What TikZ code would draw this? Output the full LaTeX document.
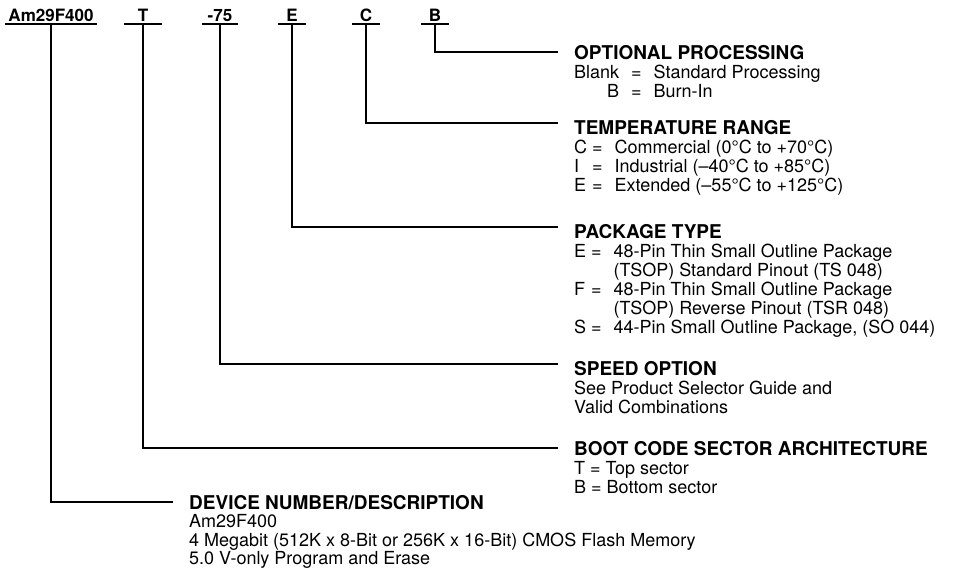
\documentclass[tikz,border=0pt]{standalone}
\usepackage{fontspec}
\setmainfont{TeX Gyre Heros}
\usepackage{tikz}

\begin{document}
\begin{tikzpicture}[x=1pt,y=-1pt,
  part/.style={font=\fontsize{17}{19}\selectfont\bfseries, inner xsep=0pt, inner ysep=2.5pt, anchor=south, text depth=0pt},
  head/.style={font=\fontsize{19}{19}\selectfont\bfseries, inner sep=0pt, anchor=west, text depth=0pt},
  desc/.style={font=\fontsize{18}{19}\selectfont, inner sep=0pt, anchor=north west},
  wire/.style={line width=1.6pt, shorten >=16pt}]

\useasboundingbox (0,0) rectangle (961,572);

\node[part, minimum width=92pt] (am) at (51,24) {Am29F400};
\node[part, minimum width=37pt] (t) at (143,24) {T};
\node[part, minimum width=36pt] (sp) at (220,24) {-75};
\node[part, minimum width=27pt] (e) at (292,24) {E};
\node[part, minimum width=28pt] (c) at (366,24) {C};
\node[part, minimum width=27pt] (b) at (435,24) {B};
\foreach \n in {am,t,sp,e,c,b}
  \draw[line width=1.6pt] (\n.south west) -- (\n.south east);

\node[head] (op) at (574,52) {OPTIONAL PROCESSING};
\node[desc] (opd) at ([yshift=-5.5pt]op.south west) {\begin{tabular}{@{}r@{\hspace{12pt}=\hspace{12pt}}l@{}}
Blank & Standard Processing\\
B & Burn-In
\end{tabular}};

\node[head] (tr) at (574,127) {TEMPERATURE RANGE};
\node[desc] (trd) at ([yshift=-5.5pt]tr.south west) {\begin{tabular}{@{}l@{\hspace{5pt}=\hspace{12pt}}l@{}}
C & Commercial (0°C to +70°C)\\
I & Industrial (--40°C to +85°C)\\
E & Extended (--55°C to +125°C)
\end{tabular}};

\node[head] (pt) at (574,231) {PACKAGE TYPE};
\node[desc] (ptd) at ([yshift=-5.5pt]pt.south west) {\begin{tabular}{@{}l@{\hspace{5pt}}l@{\hspace{12pt}}l@{}}
E & = & 48-Pin Thin Small Outline Package\\
  &   & (TSOP) Standard Pinout (TS 048)\\
F & = & 48-Pin Thin Small Outline Package\\
  &   & (TSOP) Reverse Pinout (TSR 048)\\
S & = & 44-Pin Small Outline Package, (SO 044)
\end{tabular}};

\node[head] (so) at (574,368) {SPEED OPTION};
\node[desc] (sod) at ([yshift=-5.5pt]so.south west) {\begin{tabular}{@{}l@{}}
See Product Selector Guide and\\
Valid Combinations
\end{tabular}};

\node[head] (bc) at (574,448) {BOOT CODE SECTOR ARCHITECTURE};
\node[desc] (bcd) at ([yshift=-5.5pt]bc.south west) {\begin{tabular}{@{}l@{}}
T = Top sector\\
B = Bottom sector
\end{tabular}};

\node[head] (dn) at (189,502) {DEVICE NUMBER/DESCRIPTION};
\node[desc, font=\fontsize{18}{17.5}\selectfont] (dnd) at ([yshift=-5pt]dn.south west) {\begin{tabular}{@{}l@{}}
Am29F400\\
4 Megabit (512K x 8-Bit or 256K x 16-Bit) CMOS Flash Memory\\
5.0 V-only Program and Erase
\end{tabular}};

\draw[wire] (b.south) |- (op.west);
\draw[wire] (c.south) |- ([yshift=4pt]tr.west);
\draw[wire] (e.south) |- ([yshift=4pt]pt.west);
\draw[wire] (sp.south) |- ([yshift=4pt]so.west);
\draw[wire] (t.south) |- (bc.west);
\draw[wire] (am.south) |- (dn.west);

\end{tikzpicture}
\end{document}
